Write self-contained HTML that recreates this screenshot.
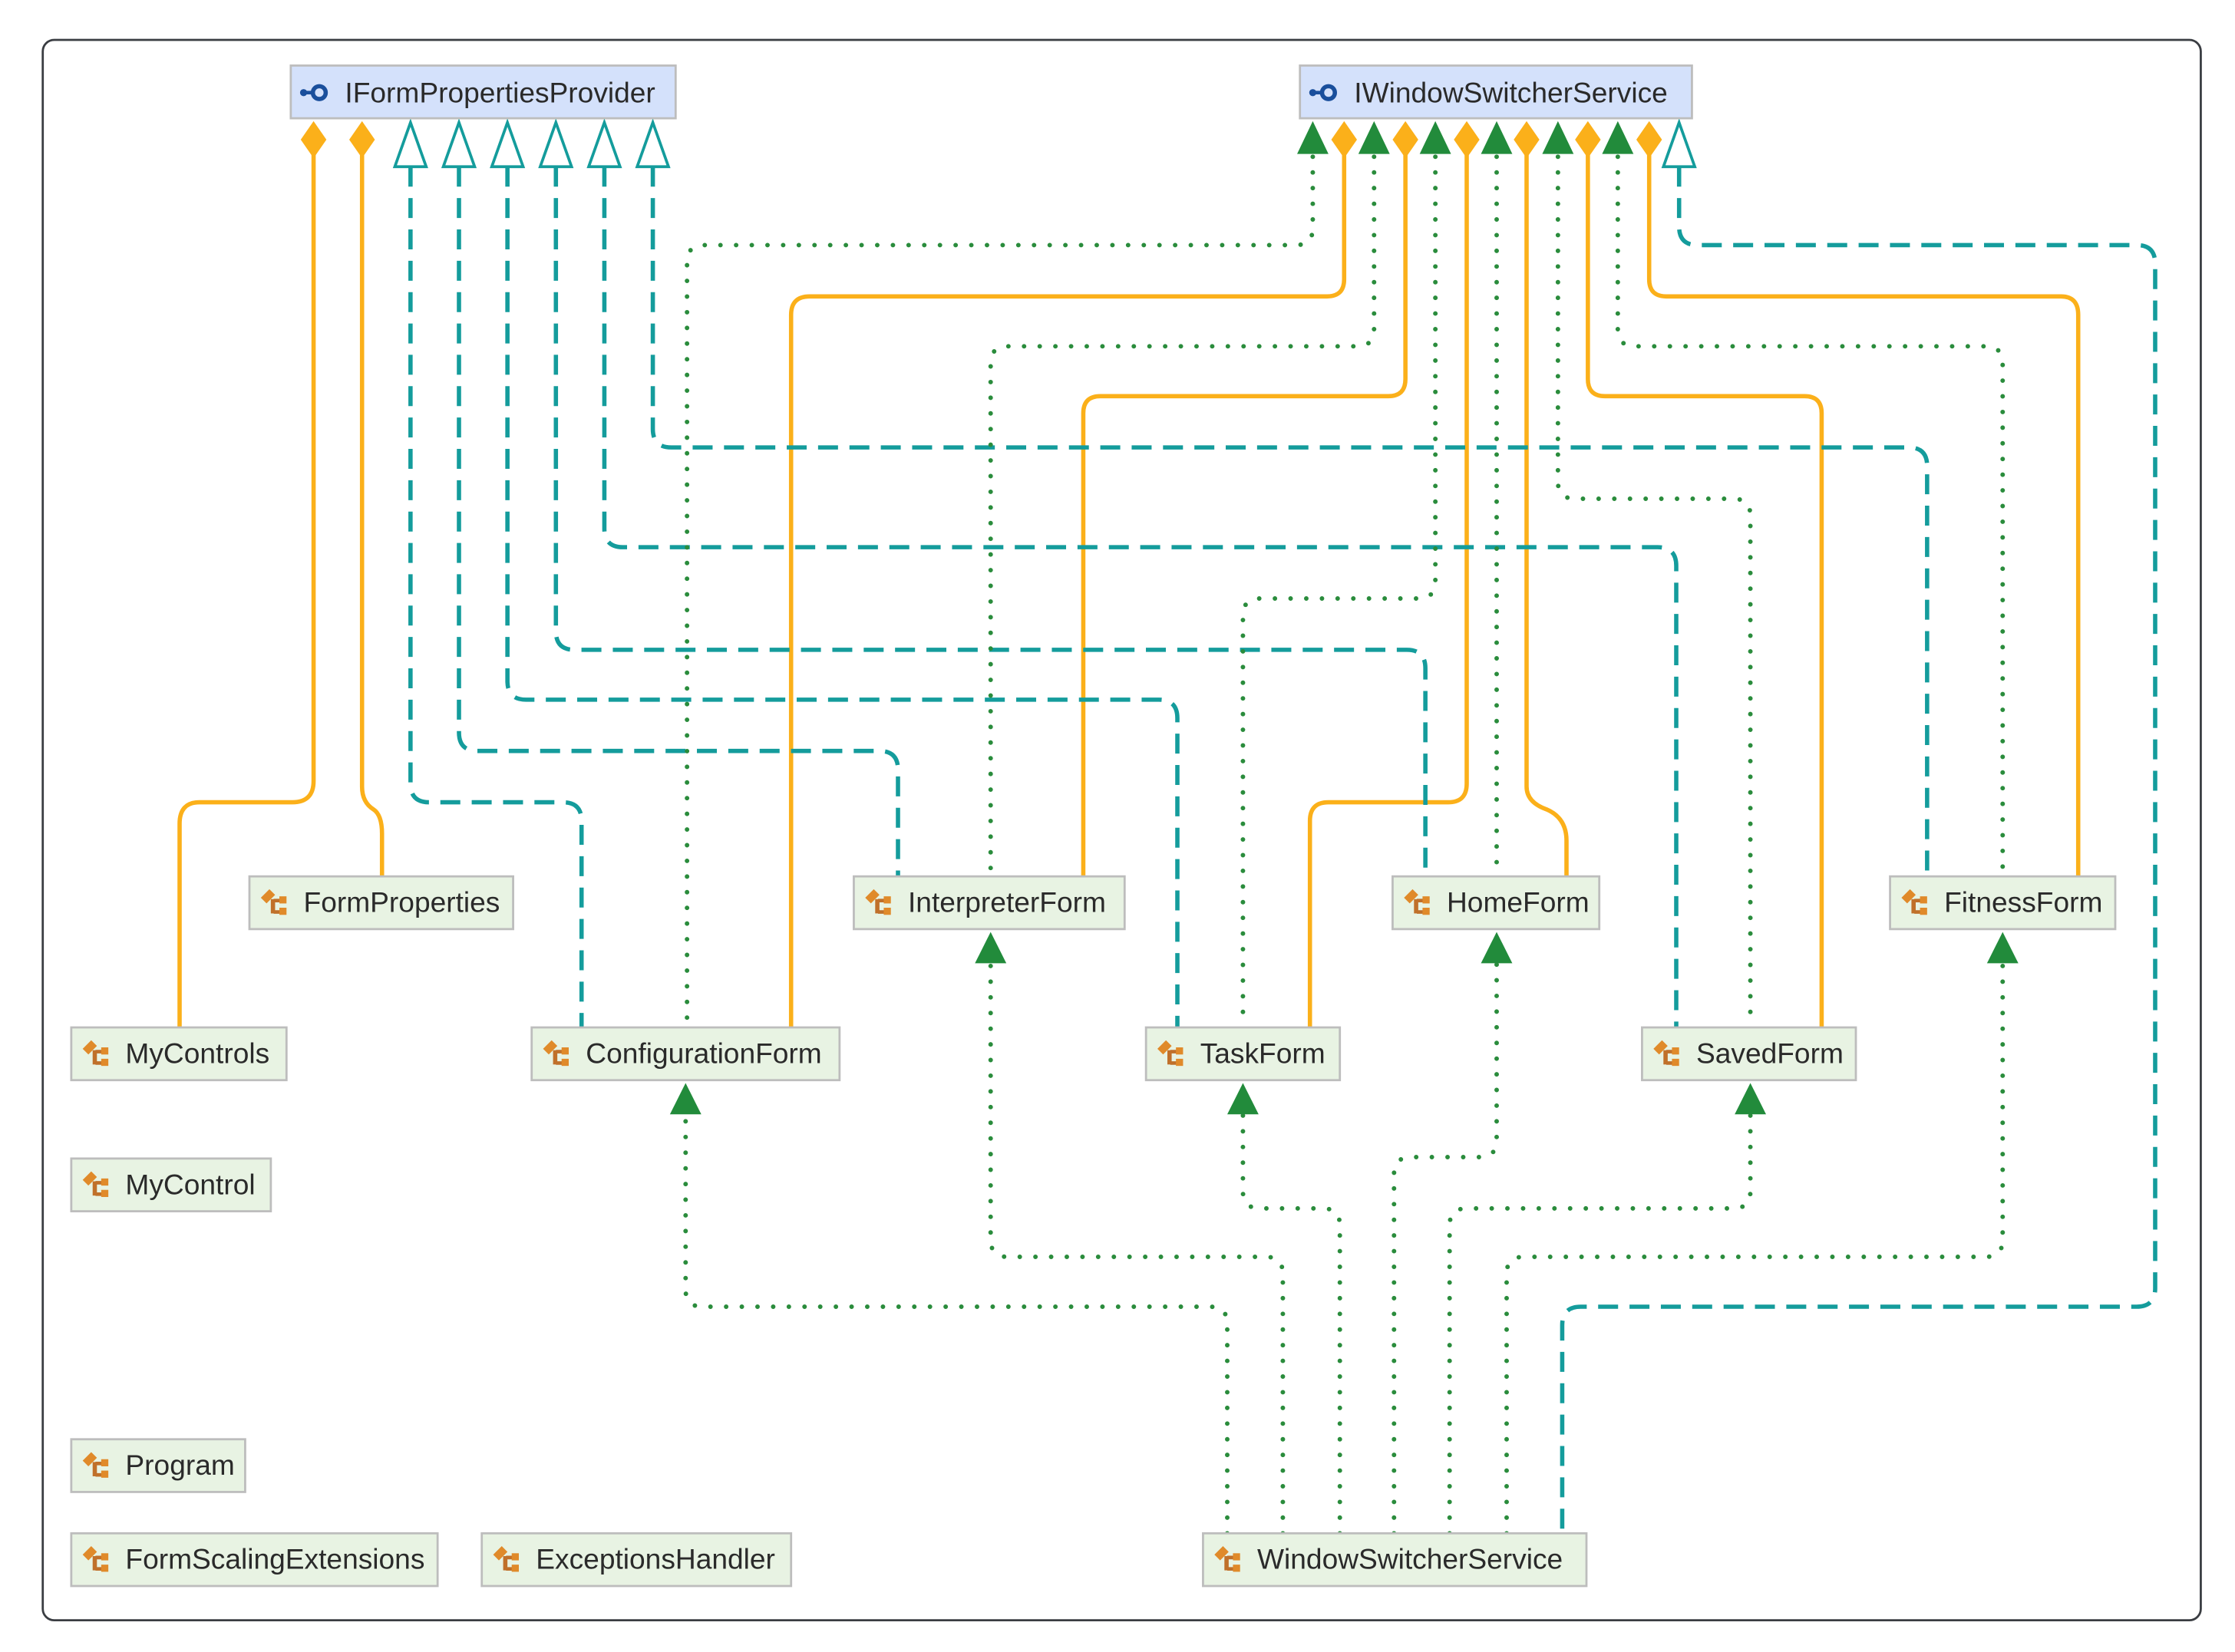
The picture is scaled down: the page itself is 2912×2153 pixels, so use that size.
<!DOCTYPE html>
<html><head><meta charset="utf-8"><style>
html,body{margin:0;padding:0;background:#fff}
svg{display:block}
text{font-family:"Liberation Sans",sans-serif;font-size:20px;fill:#2a2a2a}
</style></head><body>
<svg width="2912" height="2153" viewBox="0 0 1568 1159.3" preserveAspectRatio="none" xmlns="http://www.w3.org/2000/svg">
<defs>
<g id="ci">
<path d="M2,8 L8,2 L12,6 L6,12 Z" fill="#e08a2a"/>
<rect x="9" y="9" width="3" height="10" fill="#c0702a"/>
<path d="M11,10 h7 M11,18 h7" stroke="#c0702a" stroke-width="2.5"/>
<rect x="15" y="7" width="5" height="5" fill="#e08a2a"/>
<rect x="15" y="15" width="5" height="5" fill="#e08a2a"/>
</g>
<g id="ii">
<circle cx="3" cy="10" r="2.5" fill="#1a4f9c"/>
<path d="M3,10 h6" stroke="#1a4f9c" stroke-width="2.5"/>
<circle cx="14" cy="10" r="4.5" fill="none" stroke="#1a4f9c" stroke-width="3"/>
</g>
</defs>
<rect x="30" y="28" width="1514" height="1109" rx="8" fill="#fff" stroke="#3a3d42" stroke-width="1.5"/>

<g fill="none" stroke="#fbb01a" stroke-width="3" stroke-linejoin="round">
<path d="M220,108 V548 Q220,563 205,563 H140 Q126,563 126,578 V721"/>
<path d="M254,108 V552 Q254,563 262,568 Q268,572 268,585 V615"/>
<path d="M943,108 V196 Q943,208 931,208 H568 Q555,208 555,221 V721"/>
<path d="M986,108 V266 Q986,278 974,278 H772 Q760,278 760,290 V615"/>
<path d="M1029,108 V550 Q1029,563 1016,563 H932 Q919,563 919,576 V721"/>
<path d="M1071,108 V552 Q1071,563 1085,568 Q1099,574 1099,590 V615"/>
<path d="M1114,108 V266 Q1114,278 1126,278 H1266 Q1278,278 1278,290 V721"/>
<path d="M1157,108 V196 Q1157,208 1169,208 H1446 Q1458,208 1458,221 V615"/>
</g>

<g fill="none" stroke="#149c9c" stroke-width="3" stroke-dasharray="14 8" stroke-linejoin="round">
<path d="M288,117 V550 Q288,563 301,563 H395 Q408,563 408,576 V721"/>
<path d="M322,117 V514 Q322,527 335,527 H617 Q630,527 630,540 V615"/>
<path d="M356,117 V478 Q356,491 369,491 H813 Q826,491 826,504 V721"/>
<path d="M390,117 V443 Q390,456 403,456 H987 Q1000,456 1000,469 V615"/>
<path d="M424,117 V371 Q424,384 437,384 H1163 Q1176,384 1176,397 V721"/>
<path d="M458,117 V301 Q458,314 471,314 H1339 Q1352,314 1352,327 V615"/>
<path d="M1178,117 V159 Q1178,172 1191,172 H1499 Q1512,172 1512,185 V904 Q1512,917 1499,917 H1109 Q1096,917 1096,930 V1076"/>
</g>

<g fill="none" stroke="#2a8c3c" stroke-width="3.2" stroke-dasharray="0 11" stroke-linecap="round" stroke-linejoin="round">
<path d="M921,110 V160 Q921,172 909,172 H494 Q482,172 482,184 V721"/>
<path d="M964,110 V231 Q964,243 952,243 H707 Q695,243 695,255 V615"/>
<path d="M1007,110 V408 Q1007,420 995,420 H884 Q872,420 872,432 V721"/>
<path d="M1050,110 V615"/>
<path d="M1093,110 V338 Q1093,350 1105,350 H1216 Q1228,350 1228,362 V721"/>
<path d="M1135,110 V231 Q1135,243 1147,243 H1393 Q1405,243 1405,255 V615"/>
<path d="M861,1076 V929 Q861,917 849,917 H493 Q481,917 481,905 V782"/>
<path d="M900,1076 V894 Q900,882 888,882 H707 Q695,882 695,870 V676"/>
<path d="M940,1076 V860 Q940,848 928,848 H884 Q872,848 872,836 V782"/>
<path d="M978,1076 V824 Q978,812 990,812 H1038 Q1050,812 1050,800 V676"/>
<path d="M1017,1076 V860 Q1017,848 1029,848 H1216 Q1228,848 1228,836 V782"/>
<path d="M1057,1076 V894 Q1057,882 1069,882 H1393 Q1405,882 1405,870 V676"/>
</g>

<g fill="#fbb01a">
<path d="M220,85 L229,98 L220,111 L211,98 Z"/>
<path d="M254,85 L263,98 L254,111 L245,98 Z"/>
</g>
<g fill="#fff" stroke="#149c9c" stroke-width="2">
<path d="M288,86 L299,117 L277,117 Z"/>
<path d="M322,86 L333,117 L311,117 Z"/>
<path d="M356,86 L367,117 L345,117 Z"/>
<path d="M390,86 L401,117 L379,117 Z"/>
<path d="M424,86 L435,117 L413,117 Z"/>
<path d="M458,86 L469,117 L447,117 Z"/>
<path d="M1178,86 L1189,117 L1167,117 Z"/>
</g>
<g fill="#228b3b">
<path d="M921,85 L932,108 L910,108 Z"/>
<path d="M964,85 L975,108 L953,108 Z"/>
<path d="M1007,85 L1018,108 L996,108 Z"/>
<path d="M1050,85 L1061,108 L1039,108 Z"/>
<path d="M1093,85 L1104,108 L1082,108 Z"/>
<path d="M1135,85 L1146,108 L1124,108 Z"/>
<path d="M481,760 L492,782 L470,782 Z"/>
<path d="M695,654 L706,676 L684,676 Z"/>
<path d="M872,760 L883,782 L861,782 Z"/>
<path d="M1050,654 L1061,676 L1039,676 Z"/>
<path d="M1228,760 L1239,782 L1217,782 Z"/>
<path d="M1405,654 L1416,676 L1394,676 Z"/>
</g>
<g fill="#fbb01a">
<path d="M943,85 L952,98 L943,111 L934,98 Z"/>
<path d="M986,85 L995,98 L986,111 L977,98 Z"/>
<path d="M1029,85 L1038,98 L1029,111 L1020,98 Z"/>
<path d="M1071,85 L1080,98 L1071,111 L1062,98 Z"/>
<path d="M1114,85 L1123,98 L1114,111 L1105,98 Z"/>
<path d="M1157,85 L1166,98 L1157,111 L1148,98 Z"/>
</g>

<g stroke="#bdbdbd" stroke-width="1.5" fill="#d4e1fb">
<rect x="204" y="46" width="270" height="37"/>
<rect x="912" y="46" width="275" height="37"/>
</g>
<use href="#ii" x="210" y="55"/>
<text x="242" y="72">IFormPropertiesProvider</text>
<use href="#ii" x="918" y="55"/>
<text x="950" y="72">IWindowSwitcherService</text>

<g stroke="#bdbdbd" stroke-width="1.5" fill="#e8f3e3">
<rect x="175" y="615" width="185" height="37"/>
<rect x="599" y="615" width="190" height="37"/>
<rect x="977" y="615" width="145" height="37"/>
<rect x="1326" y="615" width="158" height="37"/>
<rect x="50" y="721" width="151" height="37"/>
<rect x="373" y="721" width="216" height="37"/>
<rect x="804" y="721" width="136" height="37"/>
<rect x="1152" y="721" width="150" height="37"/>
<rect x="50" y="813" width="140" height="37"/>
<rect x="50" y="1010" width="122" height="37"/>
<rect x="50" y="1076" width="257" height="37"/>
<rect x="338" y="1076" width="217" height="37"/>
<rect x="844" y="1076" width="269" height="37"/>
</g>
<use href="#ci" x="181" y="622"/><text x="213" y="640">FormProperties</text>
<use href="#ci" x="605" y="622"/><text x="637" y="640">InterpreterForm</text>
<use href="#ci" x="983" y="622"/><text x="1015" y="640">HomeForm</text>
<use href="#ci" x="1332" y="622"/><text x="1364" y="640">FitnessForm</text>
<use href="#ci" x="56" y="728"/><text x="88" y="746">MyControls</text>
<use href="#ci" x="379" y="728"/><text x="411" y="746">ConfigurationForm</text>
<use href="#ci" x="810" y="728"/><text x="842" y="746">TaskForm</text>
<use href="#ci" x="1158" y="728"/><text x="1190" y="746">SavedForm</text>
<use href="#ci" x="56" y="820"/><text x="88" y="838">MyControl</text>
<use href="#ci" x="56" y="1017"/><text x="88" y="1035">Program</text>
<use href="#ci" x="56" y="1083"/><text x="88" y="1101">FormScalingExtensions</text>
<use href="#ci" x="344" y="1083"/><text x="376" y="1101">ExceptionsHandler</text>
<use href="#ci" x="850" y="1083"/><text x="882" y="1101">WindowSwitcherService</text>
</svg>
</body></html>
